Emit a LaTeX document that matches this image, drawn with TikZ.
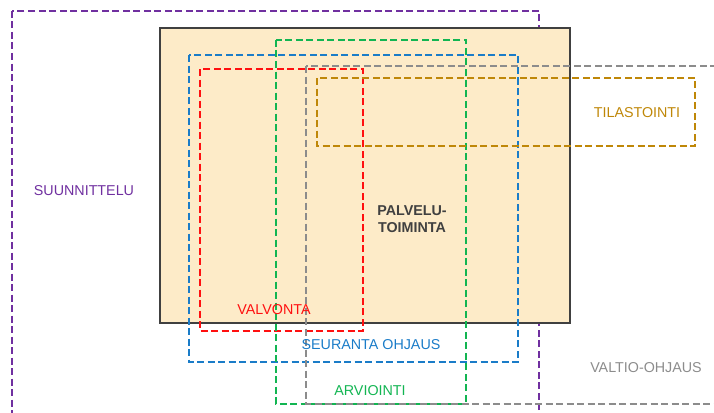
\documentclass[tikz,border=0pt]{standalone}
\usepackage{fontspec}
\setmainfont{Liberation Sans}
\usepackage{tikz}
\usetikzlibrary{calc}
\definecolor{suunn}{HTML}{7030A0}
\definecolor{valvo}{HTML}{FF1010}
\definecolor{seura}{HTML}{1A7CC8}
\definecolor{arvio}{HTML}{12B552}
\definecolor{valtio}{HTML}{8C8C8C}
\definecolor{tilas}{HTML}{BF8708}
\definecolor{pohja}{HTML}{FDEBC8}
\tikzset{alue/.style={line width=2pt, dash pattern=on 7pt off 3.5pt}}
\newcommand{\alue}[5]{ \draw[alue, #1] ( #2 , #3 ) rectangle ( #4 , #5 );}
\newcommand{\nimi}[5]{\node[text=#1, inner sep=0pt, font=\fontsize{14.3}{16.5}\selectfont, align=center] (#2) at ( #3 , #4 ) {#5};}

\begin{document}
\begin{tikzpicture}[x=1pt,y=-1pt]
        \clip (0,0) rectangle (714,412);
        % pohja
        \alue{suunn}{12}{11}{539}{430}
        \draw[line width=2.2pt, draw=black!75, fill=pohja] (160,28) rectangle (570,323);

        % alueet
        \alue{seura}{189}{55}{518}{362}
        \alue{valvo}{200}{69}{363}{331}
        \alue{arvio}{276}{40}{466}{404}
        \alue{valtio}{306}{66}{730}{404}
        \alue{tilas}{317}{78}{695}{146}

        % nimet
        \nimi{suunn}{suunnittelu}{84}{191}{SUUNNITTELU}
        \nimi{black!75}{palvelu}{412}{219}{\bfseries PALVELU-\\\bfseries TOIMINTA}
        \nimi{tilas}{tilastointi}{637}{113}{TILASTOINTI}
        \nimi{valvo}{valvonta}{274}{310}{VALVONTA}
        \nimi{seura}{seuranta}{371}{345}{SEURANTA OHJAUS}
        \nimi{arvio}{arviointi}{370}{391}{ARVIOINTI}
        \nimi{valtio}{valtioohjaus}{646}{368}{VALTIO-OHJAUS}

    \end{tikzpicture}
\end{document}
